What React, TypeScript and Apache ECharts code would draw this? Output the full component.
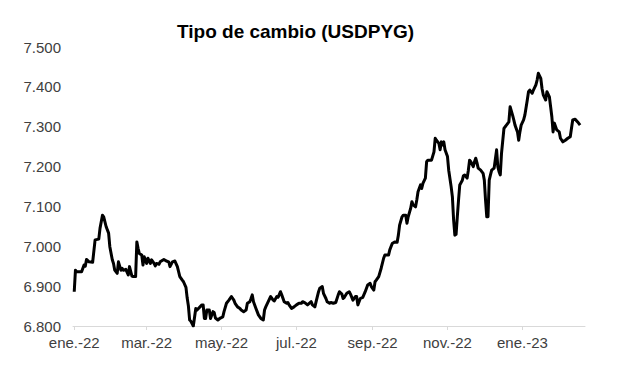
import React, { useEffect, useRef } from "react";
import * as echarts from "echarts";

// Days elapsed since 2022-01-01 for each observation
const days: number[] = [
  0, 1, 2, 6, 8, 9, 10, 12, 15, 17, 20, 21, 23, 24, 26, 28, 29, 31, 32, 33,
  35, 36, 38, 39, 40, 42, 44, 45, 47, 48, 50, 51, 52, 53, 55, 56, 57, 59, 60, 62,
  63, 65, 66, 67, 69, 70, 73, 75, 77, 78, 80, 82, 84, 86, 88, 89, 91, 92, 93, 94,
  95, 97, 99, 100, 104, 105, 106, 107, 108, 110, 111, 113, 114, 115, 117, 119, 121, 122, 124, 126,
  128, 130, 131, 133, 135, 136, 138, 140, 141, 143, 144, 145, 146, 148, 149, 150, 152, 154, 155, 156,
  158, 160, 162, 163, 165, 166, 168, 169, 171, 173, 174, 175, 177, 179, 181, 183, 185, 186, 188, 190,
  193, 194, 196, 197, 199, 200, 202, 203, 205, 206, 208, 209, 211, 213, 215, 216, 218, 219, 220, 222,
  224, 225, 227, 229, 230, 231, 233, 235, 237, 239, 241, 242, 244, 245, 246, 248, 250, 252, 253, 256,
  257, 259, 261, 263, 264, 265, 267, 268, 270, 271, 272, 274, 275, 276, 278, 279, 280, 282, 283, 284,
  286, 287, 288, 291, 293, 294, 295, 297, 298, 299, 300, 301, 302, 304, 305, 307, 308, 309, 310, 311,
  312, 313, 314, 316, 317, 318, 320, 321, 322, 323, 325, 326, 327, 328, 329, 331, 333, 334, 335, 336,
  337, 338, 339, 340, 342, 344, 345, 346, 347, 348, 350, 351, 352, 354, 355, 357, 358, 359, 361, 362,
  363, 364, 366, 367, 369, 370, 371, 373, 374, 376, 377, 378, 380, 381, 382, 384, 385, 387, 388, 389,
  390, 391, 393, 395, 396, 398, 400, 402, 404, 405, 406, 408, 410, 412,
];

// USD/PYG exchange rate (guaraníes per dólar)
const usdpyg: number[] = [
  6886, 6940, 6936, 6936, 6953, 6950, 6967, 6961, 6960, 7016, 7018, 7045, 7078, 7074, 7049, 7033, 6999, 6966, 6957, 6940,
  6932, 6961, 6940, 6945, 6940, 6942, 6928, 6949, 6925, 6924, 6924, 7011, 6995, 6982, 6978, 6953, 6974, 6957, 6970, 6957,
  6966, 6957, 6951, 6957, 6955, 6961, 6967, 6963, 6961, 6949, 6961, 6963, 6949, 6924, 6915, 6911, 6897, 6870, 6850, 6815,
  6812, 6800, 6844, 6840, 6853, 6853, 6819, 6819, 6840, 6840, 6819, 6836, 6834, 6820, 6815, 6820, 6823, 6836, 6857, 6865,
  6874, 6865, 6857, 6848, 6844, 6840, 6836, 6840, 6857, 6861, 6869, 6878, 6861, 6844, 6836, 6828, 6819, 6815, 6840, 6848,
  6861, 6874, 6865, 6863, 6874, 6872, 6886, 6878, 6861, 6857, 6859, 6853, 6844, 6848, 6853, 6857, 6857, 6861, 6858, 6853,
  6861, 6853, 6848, 6861, 6886, 6895, 6899, 6882, 6869, 6861, 6857, 6859, 6857, 6859, 6878, 6886, 6880, 6869, 6872, 6882,
  6886, 6880, 6865, 6874, 6874, 6853, 6869, 6872, 6886, 6903, 6907, 6899, 6890, 6911, 6915, 6924, 6945, 6970, 6978, 6978,
  6991, 7007, 7011, 7010, 7028, 7053, 7074, 7078, 7078, 7058, 7074, 7095, 7112, 7104, 7099, 7116, 7137, 7154, 7145, 7158,
  7171, 7212, 7216, 7216, 7237, 7271, 7266, 7258, 7242, 7262, 7254, 7262, 7242, 7225, 7191, 7149, 7124, 7066, 7028, 7030,
  7074, 7116, 7154, 7165, 7177, 7179, 7171, 7191, 7216, 7212, 7200, 7212, 7221, 7210, 7196, 7191, 7183, 7166, 7116, 7074,
  7074, 7166, 7179, 7191, 7196, 7242, 7200, 7187, 7179, 7233, 7296, 7300, 7304, 7312, 7350, 7329, 7317, 7304, 7287, 7266,
  7287, 7304, 7317, 7329, 7367, 7388, 7392, 7384, 7392, 7405, 7417, 7434, 7421, 7396, 7380, 7367, 7388, 7375, 7350, 7325,
  7287, 7309, 7292, 7287, 7271, 7262, 7266, 7271, 7275, 7296, 7317, 7319, 7312, 7304,
];

const yTicks: number[] = [6800, 6900, 7000, 7100, 7200, 7300, 7400, 7500];
// Month starts (days since 2022-01-01) used as x-axis ticks
const tickDays: number[] = [0, 59, 120, 181, 243, 304, 365];
const tickLabels: string[] = ["ene.-22", "mar.-22", "may.-22", "jul.-22", "sep.-22", "nov.-22", "ene.-23"];

export default function App() {
  const ref = useRef<HTMLDivElement>(null);
  useEffect(() => {
    if (!ref.current) return;
    const chart = echarts.init(ref.current, undefined, { renderer: "svg" });
    const fmtThousands = (v: number) => {
      const s = String(Math.round(v));
      return s.replace(/\B(?=(\d{3})+(?!\d))/g, ".");
    };
    chart.setOption({
      animation: false,
      backgroundColor: "#ffffff",
      title: {
        text: "Tipo de cambio (USDPYG)",
        left: 172,
        top: 17,
        textStyle: {
          fontFamily: "Liberation Sans, Arial, sans-serif",
          fontWeight: "bold",
          fontSize: 19,
          color: "#000000",
        },
      },
      grid: { left: 73, right: 32, top: 47, bottom: 58, containLabel: false },
      xAxis: {
        type: "value",
        min: -1,
        max: 416,
        axisLine: { show: true, lineStyle: { color: "#d9d9d9", width: 1 } },
        axisTick: {
          show: true,
          customValues: tickDays,
          length: 4,
          lineStyle: { color: "#d9d9d9" },
        },
        splitLine: { show: false },
        axisLabel: {
          customValues: tickDays,
          margin: 9,
          color: "#404040",
          fontSize: 15,
          fontFamily: "Liberation Sans, Arial, sans-serif",
          formatter: (v: number) => {
            const i = tickDays.indexOf(Math.round(v));
            return i >= 0 ? tickLabels[i] : "";
          },
        },
      },
      yAxis: {
        type: "value",
        min: yTicks[0],
        max: yTicks[yTicks.length - 1],
        interval: 100,
        axisLine: { show: false },
        axisTick: { show: false },
        splitLine: { show: false },
        axisLabel: {
          margin: 12,
          color: "#404040",
          fontSize: 15,
          fontFamily: "Liberation Sans, Arial, sans-serif",
          formatter: fmtThousands,
        },
      },
      series: [
        {
          type: "line",
          data: days.map((d, i) => [d, usdpyg[i]]),
          showSymbol: false,
          symbol: "none",
          lineStyle: { color: "#000000", width: 3, join: "round" },
        },
      ],
    });
    return () => chart.dispose();
  }, []);
  return (
    <div
      ref={ref}
      style={{ position: "absolute", left: 0, top: 0, width: 617, height: 384 }}
    />
  );
}
